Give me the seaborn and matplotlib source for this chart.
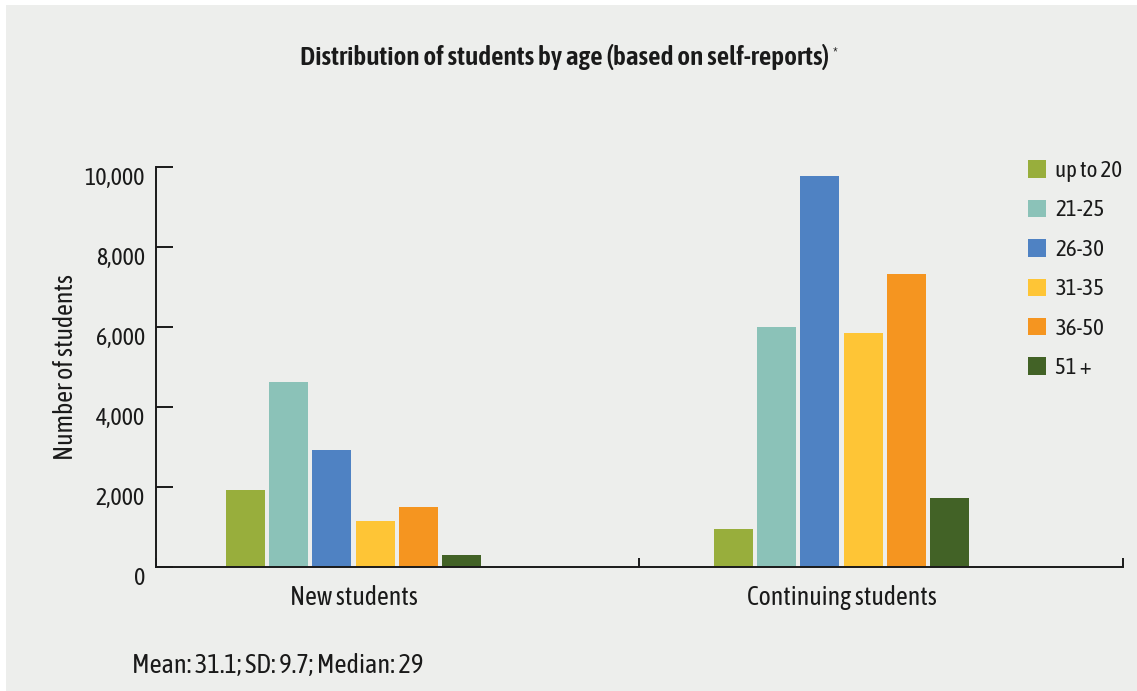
#age distribution bar chart
import numpy as np
import pandas as pd
import matplotlib
matplotlib.use("Agg")
import matplotlib.pyplot as plt
import matplotlib.patheffects as pe
import seaborn as sns
from matplotlib import font_manager
from matplotlib.ticker import FuncFormatter, FixedLocator
from matplotlib.patches import Rectangle

groups = ["New students", "Continuing students"]
ages = ["up to 20", "21-25", "26-30", "31-35", "36-50", "51 +"]
new_students = [1930, 4620, 2925, 1155, 1505, 305]
continuing_students = [955, 5995, 9760, 5845, 7315, 1730]
colors = ["#98AE3C", "#8BC2B8", "#4F82C3", "#FEC536", "#F59520", "#426226"]
y_ticks = [0, 2000, 4000, 6000, 8000, 10000]

# long form table for seaborn
df = pd.DataFrame({
    "group": np.repeat(groups, len(ages)),
    "age": ages * 2,
    "students": new_students + continuing_students,
})

# original uses a condensed face, take one if there is any (prefer one with a bold)
def wnum(w):
    if isinstance(w, (int, float)):
        return w
    return font_manager.weight_dict.get(w, 400)

entries = font_manager.fontManager.ttflist
narrow = sorted({f.name for f in entries if "Condensed" in f.name or "Narrow" in f.name})
narrow_bold = sorted({f.name for f in entries if f.name in narrow and wnum(f.weight) >= 600})
main_font = narrow_bold[0] if narrow_bold else (narrow[0] if narrow else "Roboto")
has_bold = main_font in narrow_bold or main_font == "Roboto"

sns.set_theme(style="white")
plt.rcParams["font.family"] = [main_font, "DejaVu Sans"]
bg = "#EDEEEC"
dark = "#1a1a1a"

fig = plt.figure(figsize=(11.37, 6.91), dpi=100, facecolor="white")
# grey panel, small white strip top and left like the original
fig.patches.append(Rectangle((6/1137, 0), 1, 1-5/691, transform=fig.transFigure,
                             facecolor=bg, edgecolor="none", zorder=-10))
ax = fig.add_axes([0.1372, 0.179, 0.8505, 0.5797])
ax.set_facecolor(bg)

sns.barplot(data=df, x="group", y="students", hue="age", hue_order=ages,
            palette=colors, saturation=1, width=0.532, gap=0.1,
            linewidth=0, edgecolor="none", ax=ax)

ax.set_ylim(0, 10000)
ax.set_xlim(-0.405, 1.577)
ax.set_yticks(y_ticks)
ax.yaxis.set_major_formatter(FuncFormatter(lambda v, p: f"{int(v):,}"))
for lab in ax.get_yticklabels():
    lab.set_va("top")
ax.tick_params(axis="y", direction="in", length=12, width=1.4, color=dark,
               labelsize=17.2, labelcolor=dark, pad=8, left=True)
# category separators on the x axis
ax.xaxis.set_minor_locator(FixedLocator([-0.405, 0.585, 1.577]))
ax.tick_params(axis="x", which="minor", direction="in", length=6.5, width=1.4,
               color=dark, bottom=True)
ax.tick_params(axis="x", which="major", length=0, labelsize=18.5,
               labelcolor=dark, pad=13)

for s in ["top", "right"]:
    ax.spines[s].set_visible(False)
for s in ["left", "bottom"]:
    ax.spines[s].set_color(dark)
    ax.spines[s].set_linewidth(1.4)

ax.set_xlabel("")
ax.set_ylabel("Number of students", fontsize=18.5, color=dark)
ax.yaxis.set_label_coords(-0.081, 0.5)

leg = ax.legend(loc="upper left", bbox_to_anchor=(1028/1137, 1-160/691),
                bbox_transform=fig.transFigure, frameon=False, fontsize=16.5,
                handlelength=0.79, handleheight=0.79, handletextpad=0.4,
                labelspacing=0.76, borderpad=0, borderaxespad=0)
for t in leg.get_texts():
    t.set_color(dark)

title = fig.text(0.497, 1-57/691, "Distribution of students by age (based on self-reports)",
                 ha="center", va="center", fontsize=19.6, fontweight="semibold", color=dark)
if not has_bold:
    # fake the bold face with a thin outline
    title.set_path_effects([pe.withStroke(linewidth=1.2, foreground=dark)])
ax.annotate("*", xy=(1, 0.62), xycoords=title, xytext=(2, 0),
            textcoords="offset points", fontsize=12, color=dark,
            ha="left", va="center")

fig.text(132/1137, 1-665/691, "Mean: 31.1; SD: 9.7; Median: 29",
         ha="left", va="center", fontsize=19, color=dark)

plt.savefig("out.png", dpi=100, facecolor="white")
